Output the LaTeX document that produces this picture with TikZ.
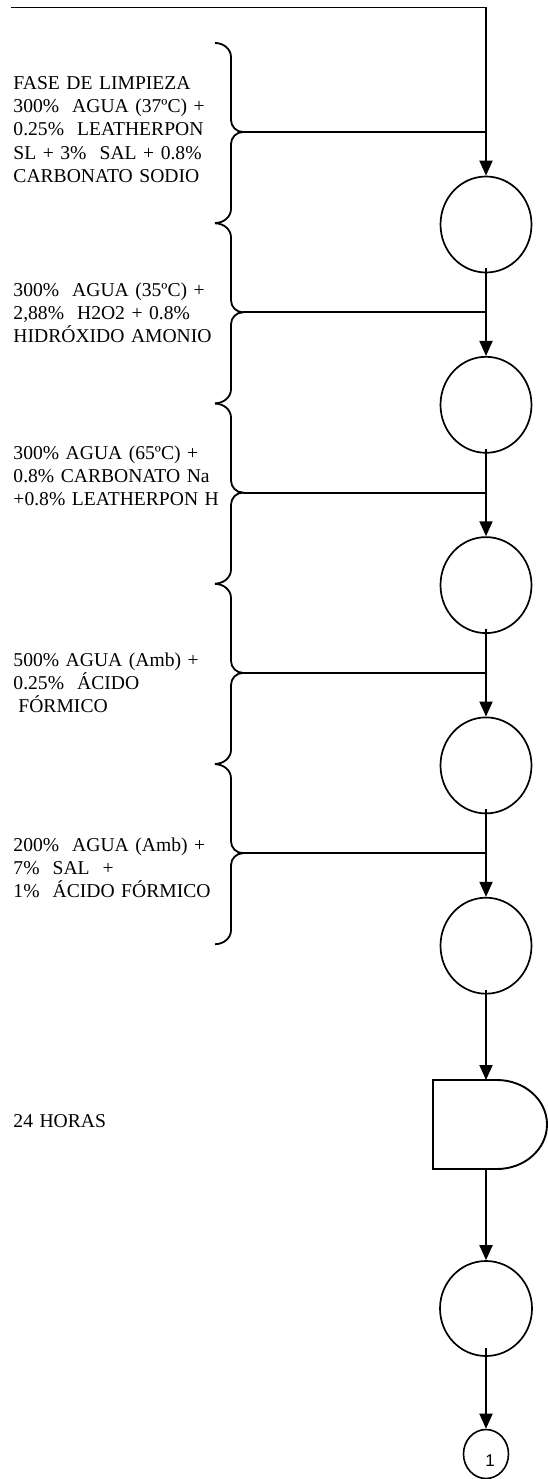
\documentclass[tikz,border=0pt]{standalone}
\usepackage{fontspec}
\setmainfont{Liberation Serif}
\newfontfamily\arialfont{Liberation Sans}
\usetikzlibrary{arrows.meta,shapes.geometric,calc}

\begin{document}
\begin{tikzpicture}[x=1pt,y=-1pt,
  line width=1.9pt,
  proc/.style={ellipse,draw,line width=1.7pt,minimum width=91pt,minimum height=96pt,inner sep=0pt},
  flow/.style={-{Triangle[length=15pt,width=13pt]}},
  lbl/.style={anchor=base west,inner sep=0pt,text width=240pt,align=left,font=\fontsize{19.6pt}{23.3pt}\selectfont},
  bracepath/.style={line width=1.8pt}
]
\useasboundingbox (0,0) rectangle (548,1479);

% top feed line
\coordinate (s0) at (11,7.5);
\coordinate (corner) at (486,7.5);
\draw (s0) -- (corner);

% operation circles
\foreach \k in {1,...,5}{
  \node[proc] (c\k) at (486,{224.5+180.3*(\k-1)}) {};
}

% braces and feed lines
\foreach \k in {1,...,5}{
  \pgfmathsetmacro{\t}{43+180.3*(\k-1)}
  \pgfmathsetmacro{\m}{\t+89}
  \pgfmathsetmacro{\b}{\t+180}
  \draw[bracepath] (215,\t) .. controls (223.8,\t) and (231,\t+6.3) .. (231,\t+14)
     -- (231,\m-12) .. controls (231,\m-5.4) and (236.4,\m) .. (243,\m)
     .. controls (236.4,\m) and (231,\m+5.4) .. (231,\m+12)
     -- (231,\b-14) .. controls (231,\b-6.3) and (223.8,\b) .. (215,\b);
  \coordinate (b\k) at (243,\m);
  \coordinate (j\k) at (486,\m);
  \draw (b\k) -- (j\k);
}

% arrows between operations
\draw[flow] (corner) -- (c1.north);
\foreach \k in {2,...,5}{
  \pgfmathtruncatemacro{\km}{\k-1}
  \draw[flow] ([yshift=5pt]c\km.south) -- (c\k.north);
}

% delay
\coordinate (dtop) at (486,1080);
\coordinate (dbot) at (486,1169);
\draw (433,1080) -- (497,1080) arc[start angle=-90,end angle=90,x radius=50,y radius=44.5] -- (433,1169) -- cycle;
\draw[flow] ([yshift=5pt]c5.south) -- (dtop);

\node[proc,minimum width=92pt,minimum height=95pt] (c6) at (486,1308.5) {};
\draw[flow] (dbot) -- (c6.north);

\node[ellipse,draw,line width=1.6pt,minimum width=45pt,minimum height=49pt,inner sep=0pt,font=\arialfont\fontsize{17pt}{17pt}\selectfont] (c7) at (486,1454) {\smash{\makebox[0pt]{\hspace*{8pt}\raisebox{-12pt}{1}}}};
\draw[flow] ([yshift=9pt]c6.south) -- (c7.north);

% labels
\node[lbl] (t1) at (12.5,89.3) {FASE DE LIMPIEZA\\300\%\ \ AGUA (37ºC) +\\0.25\%\ \ LEATHERPON\\SL + 3\%\ \ SAL + 0.8\%\\CARBONATO SODIO};
\node[lbl] (t2) at (12.5,296) {300\%\ \ AGUA (35ºC) +\\2,88\%\ \ H2O2 + 0.8\%\\HIDRÓXIDO AMONIO};
\node[lbl] (t3) at (12.5,459) {300\% AGUA (65ºC) +\\0.8\% CARBONATO Na\\+0.8\% LEATHERPON H};
\node[lbl] (t4) at (12.5,666) {500\% AGUA (Amb) +\\0.25\%\ \ ÁCIDO\\\hspace*{5pt}FÓRMICO};
\node[lbl] (t5) at (12.5,851) {200\%\ \ AGUA (Amb) +\\7\%\ \ SAL\ \ +\\1\%\ \ ÁCIDO FÓRMICO};
\node[lbl] (t6) at (12.5,1127) {24 HORAS};
\end{tikzpicture}
\end{document}
